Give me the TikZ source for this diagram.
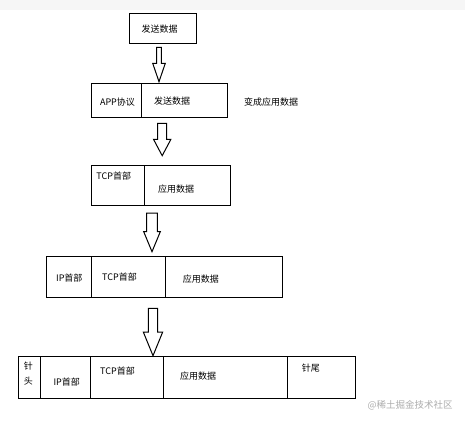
\documentclass[tikz,border=0pt]{standalone}
\usepackage{fontspec}
\setmainfont{Noto Sans CJK SC}
\newfontfamily\cjk{Noto Sans CJK SC}
\begin{document}
\begin{tikzpicture}[x=1pt,y=-1pt,
  cellbox/.style={draw=black,line width=1pt,inner sep=0pt,outer sep=0pt,anchor=north west},
  lbl/.style={inner sep=0pt,font=\cjk\fontsize{9}{10}\selectfont,text=black},
  blockarrow/.style={draw=black,line width=1pt,fill=white,line join=miter}]
\useasboundingbox (0,0) rectangle (465,422);
\fill[gray!7] (0,0) rectangle (465,10);
% helper: cell from (x1,y1) to (x2,y2)
\newcommand\mycell[5]{\node[cellbox,minimum width=#4-#2,minimum height=#5-#3] (#1) at (#2,#3) {};}
% block arrow: name, cx, shaft half, head half, top, headstart, tip
\newcommand\myarrow[7]{%
  \coordinate (#1) at (#2,#7);
  \draw[blockarrow] (#2-#3,#5) -- (#2+#3,#5) -- (#2+#3,#6) -- (#2+#4,#6) -- (#1) -- (#2-#4,#6) -- (#2-#3,#6) -- cycle;}
% Box 1
\mycell{b1}{129.3}{13.3}{196}{44}
\node[lbl] (t1) at (159.5,29.3) {发送数据};
\myarrow{a1}{159}{2.3}{6.3}{47.3}{63.3}{81.7}
% Box 2
\mycell{b2a}{91}{84}{141}{118}
\mycell{b2b}{141}{84}{227.7}{118}
\node[lbl] (t2a) at (117.5,101.7) {APP协议};
\node[lbl] (t2b) at (172,101.3) {发送数据};
\node[lbl] (t2c) at (271,102) {变成应用数据};
\myarrow{a2}{162.2}{4.5}{8.7}{123.3}{139.3}{155.7}
% Box 3
\mycell{b3a}{91.7}{165}{144}{205}
\mycell{b3b}{144}{165}{230.7}{205}
\node[lbl] (t3a) at (113.7,176) {TCP首部};
\node[lbl] (t3b) at (176,189) {应用数据};
\myarrow{a3}{152}{5.3}{8.3}{213}{231.7}{251.7}
% Box 4
\mycell{b4a}{46}{256}{91}{297.3}
\mycell{b4b}{91}{256}{165.7}{297.3}
\mycell{b4c}{165.7}{256}{282.7}{297.3}
\node[lbl] (t4a) at (69.3,277.7) {IP首部};
\node[lbl] (t4b) at (119.5,277) {TCP首部};
\node[lbl] (t4c) at (200.8,279) {应用数据};
\myarrow{a4}{153}{4.7}{9.7}{308.3}{332}{355.7}
% Box 5
\mycell{b5a}{18.3}{356}{40.7}{398.3}
\mycell{b5b}{40.7}{356}{90.3}{398.3}
\mycell{b5c}{90.3}{356}{163}{398.3}
\mycell{b5d}{163}{356}{287.7}{398.3}
\mycell{b5e}{287.7}{356}{355}{398.3}
\node[lbl] (t5a1) at (28.3,365.7) {针};
\node[lbl] (t5a2) at (28.3,381) {头};
\node[lbl] (t5b) at (66.7,382) {IP首部};
\node[lbl] (t5c) at (117.5,371) {TCP首部};
\node[lbl] (t5d) at (198,376) {应用数据};
\node[lbl] (t5e) at (310.8,368.3) {针尾};
\node[inner sep=0pt,font=\cjk\fontsize{9.5}{11}\selectfont,text=gray!65] (wm) at (410,405.7) {@稀土掘金技术社区};
\end{tikzpicture}
\end{document}
